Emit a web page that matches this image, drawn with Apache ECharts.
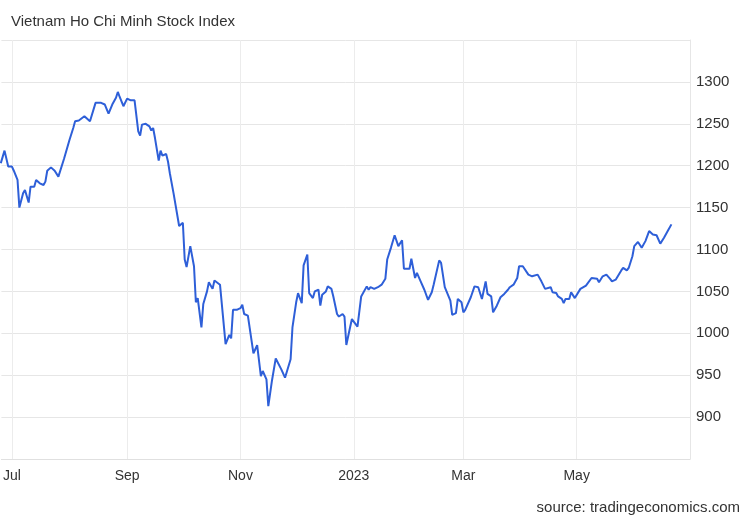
<!DOCTYPE html>
<html>
<head>
<meta charset="utf-8">
<script src="https://cdn.jsdelivr.net/npm/echarts@6/dist/echarts.min.js"></script>
<style>html,body{margin:0;padding:0;background:#fff}#c{width:750px;height:520px}</style>
</head>
<body>
<div id="c"></div>
<script>
const dates = [
'2022-06-25','2022-06-27','2022-06-28','2022-06-29','2022-07-01','2022-07-02','2022-07-04','2022-07-05','2022-07-07','2022-07-08',
'2022-07-10','2022-07-11','2022-07-13','2022-07-14','2022-07-16','2022-07-18','2022-07-19','2022-07-20','2022-07-22','2022-07-24',
'2022-07-26','2022-07-27','2022-07-29','2022-07-30','2022-08-01','2022-08-03','2022-08-04','2022-08-06','2022-08-09','2022-08-10',
'2022-08-12','2022-08-15','2022-08-18','2022-08-20','2022-08-22','2022-08-24','2022-08-26','2022-08-27','2022-08-28','2022-08-30',
'2022-09-01','2022-09-03','2022-09-05','2022-09-07','2022-09-08','2022-09-09','2022-09-11','2022-09-13','2022-09-14','2022-09-15',
'2022-09-16','2022-09-18','2022-09-19','2022-09-20','2022-09-22','2022-09-23','2022-09-24','2022-09-26','2022-09-29','2022-10-01',
'2022-10-02','2022-10-03','2022-10-05','2022-10-07','2022-10-08','2022-10-09','2022-10-11','2022-10-12','2022-10-14','2022-10-15',
'2022-10-17','2022-10-18','2022-10-19','2022-10-21','2022-10-24','2022-10-26','2022-10-27','2022-10-28','2022-10-30','2022-11-01',
'2022-11-02','2022-11-03','2022-11-05','2022-11-08','2022-11-09','2022-11-10','2022-11-12','2022-11-13','2022-11-15','2022-11-16',
'2022-11-18','2022-11-20','2022-11-21','2022-11-23','2022-11-25','2022-11-26','2022-11-28','2022-11-29','2022-12-01','2022-12-02',
'2022-12-04','2022-12-05','2022-12-07','2022-12-08','2022-12-10','2022-12-11','2022-12-13','2022-12-14','2022-12-15','2022-12-17',
'2022-12-18','2022-12-20','2022-12-21','2022-12-23','2022-12-24','2022-12-26','2022-12-27','2022-12-28','2022-12-30','2022-12-31',
'2023-01-02','2023-01-03','2023-01-05','2023-01-06','2023-01-08','2023-01-09','2023-01-10','2023-01-12','2023-01-14','2023-01-16',
'2023-01-18','2023-01-19','2023-01-21','2023-01-23','2023-01-25','2023-01-27','2023-01-28','2023-01-29','2023-01-31','2023-02-01',
'2023-02-03','2023-02-04','2023-02-06','2023-02-08','2023-02-10','2023-02-12','2023-02-13','2023-02-14','2023-02-16','2023-02-17',
'2023-02-19','2023-02-20','2023-02-22','2023-02-23','2023-02-25','2023-02-26','2023-02-28','2023-03-01','2023-03-02','2023-03-05',
'2023-03-07','2023-03-09','2023-03-10','2023-03-11','2023-03-13','2023-03-14','2023-03-16','2023-03-17','2023-03-19','2023-03-21',
'2023-03-23','2023-03-25','2023-03-26','2023-03-28','2023-03-30','2023-03-31','2023-04-02','2023-04-03','2023-04-05','2023-04-07',
'2023-04-08','2023-04-10','2023-04-11','2023-04-12','2023-04-14','2023-04-15','2023-04-17','2023-04-18','2023-04-20','2023-04-21',
'2023-04-23','2023-04-24','2023-04-25','2023-04-27','2023-04-28','2023-04-30','2023-05-01','2023-05-03','2023-05-04','2023-05-06',
'2023-05-07','2023-05-09','2023-05-10','2023-05-12','2023-05-13','2023-05-15','2023-05-16','2023-05-17','2023-05-19','2023-05-20',
'2023-05-22','2023-05-23','2023-05-25','2023-05-26','2023-05-28','2023-05-29','2023-05-31','2023-06-01','2023-06-03','2023-06-04',
'2023-06-05','2023-06-07','2023-06-09','2023-06-11','2023-06-13','2023-06-14','2023-06-15','2023-06-17','2023-06-19','2023-06-21'
];
const values = [
1203,1218,1218,1199,1199,1194,1183,1150,1167,1171,
1156,1175,1175,1183,1179,1177,1181,1194,1198,1194,
1187,1188,1208,1207,1231,1245,1253,1254,1259,1257,
1253,1275,1275,1273,1262,1273,1281,1288,1282,1271,
1280,1278,1278,1241,1236,1249,1250,1247,1242,1245,
1233,1206,1218,1212,1214,1205,1191,1167,1128,1132,
1088,1079,1104,1080,1037,1042,1007,1035,1050,1061,
1053,1063,1061,1058,987,998,994,1028,1028,1030,
1034,1023,1021,976,981,986,949,955,945,913,
944,970,970,957,947,949,969,1007,1037,1048,
1036,1081,1094,1048,1042,1050,1052,1033,1046,1050,
1056,1053,1044,1023,1020,1023,1020,986,1007,1017,
1011,1008,1044,1046,1056,1052,1055,1053,1055,1058,
1065,1088,1102,1117,1104,1111,1077,1077,1077,1089,
1066,1072,1062,1052,1040,1049,1058,1060,1087,1084,
1055,1053,1039,1022,1024,1041,1037,1025,1028,1043,
1056,1055,1053,1041,1062,1047,1044,1025,1033,1043,
1047,1052,1055,1058,1066,1080,1080,1081,1070,1068,
1066,1070,1068,1062,1053,1053,1055,1049,1048,1044,
1041,1036,1041,1041,1049,1042,1042,1053,1055,1057,
1057,1066,1066,1065,1061,1068,1068,1070,1065,1062,
1064,1063,1075,1078,1075,1078,1092,1104,1109,1108,
1102,1110,1122,1118,1117,1115,1107,1114,1122,1130
];
const tickDates = ['2022-07-01','2022-09-01','2022-11-01','2023-01-01','2023-03-01','2023-05-01'];
const tickLabels = ['Jul','Sep','Nov','2023','Mar','May'];
const yTicks = [900,950,1000,1050,1100,1150,1200,1250,1300];

const ts = d => Date.parse(d + 'T00:00:00Z');
const tickTs = tickDates.map(ts);
const chart = echarts.init(document.getElementById('c'), null, {renderer: 'canvas'});
const font = "'Liberation Sans', Arial, sans-serif";
chart.setOption({
  animation: false,
  backgroundColor: '#fff',
  title: {
    text: 'Vietnam Ho Chi Minh Stock Index',
    left: 6, top: 9,
    textStyle: {fontFamily: font, fontSize: 15, fontWeight: 'normal', color: '#333'}
  },
  graphic: [{
    type: 'text', right: 10, top: 500,
    style: {text: 'source: tradingeconomics.com', fontFamily: font, fontSize: 15, fill: '#333'}
  }],
  grid: {left: 0, right: 60, top: 40, bottom: 61, containLabel: false},
  xAxis: {
    type: 'value',
    min: ts('2022-06-25') + 8 * 3600e3,
    max: ts('2023-07-01'),
    axisLine: {show: true, lineStyle: {color: '#e0e0e0'}},
    axisTick: {show: false, customValues: tickTs},
    splitLine: {show: true, lineStyle: {color: '#ececec'}},
    axisLabel: {
      customValues: tickTs,
      margin: 10,
      fontFamily: font, fontSize: 14, color: '#333',
      formatter: function (v) {
        const i = tickTs.indexOf(v);
        return i >= 0 ? tickLabels[i] : '';
      }
    }
  },
  yAxis: {
    type: 'value',
    position: 'right',
    min: 850, max: 1350, interval: 50,
    axisLine: {show: true, lineStyle: {color: '#e6e6e6'}},
    axisTick: {show: false},
    splitLine: {show: true, lineStyle: {color: '#e6e6e6'}},
    axisLabel: {
      margin: 6,
      fontFamily: font, fontSize: 15, color: '#333',
      formatter: function (v) { return yTicks.indexOf(v) >= 0 ? String(v) : ''; }
    }
  },
  series: [{
    type: 'line',
    data: dates.map((d, i) => [ts(d), values[i]]),
    showSymbol: false,
    symbol: 'none',
    lineStyle: {color: '#2e5fd8', width: 2},
    itemStyle: {color: '#2e5fd8'}
  }]
});
</script>
</body>
</html>
